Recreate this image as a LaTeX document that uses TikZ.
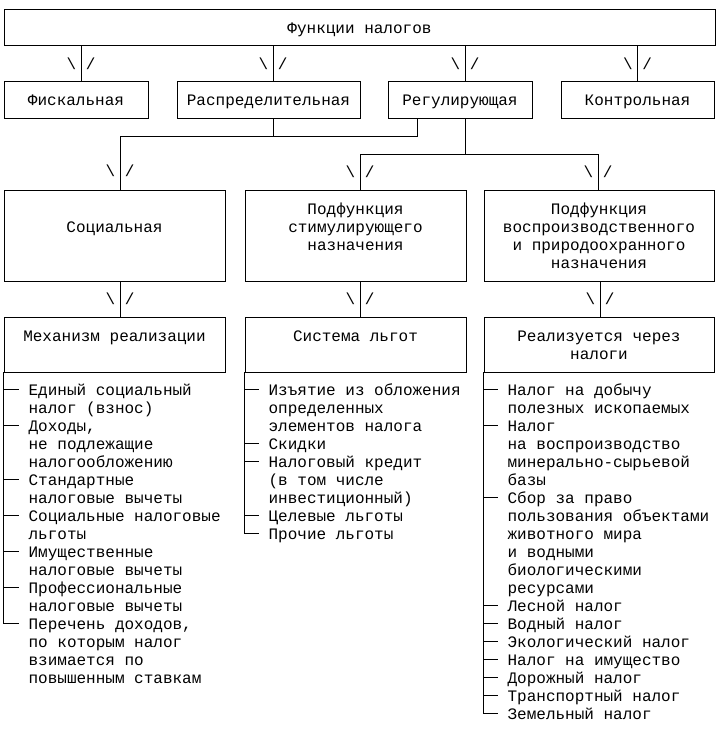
\documentclass[tikz,border=0pt]{standalone}
\usepackage{fontspec}
\setmonofont{Liberation Mono}
\usepackage{tikz}

\newcommand{\diagfont}{\ttfamily\fontsize{16}{18}\selectfont}
\newcommand{\arrowmark}{\textbackslash\hphantom{/}/}
\newcommand{\midrows}[1]{\raisebox{-2pt}[\height][\depth]{\begin{tabular}{@{}c@{}}#1\end{tabular}}}
\newcommand{\leftrows}[1]{\raisebox{-2pt}[\height][\depth]{\begin{tabular}{@{}l@{}}#1\end{tabular}}}

\tikzset{
  box/.style={draw, font=\diagfont, inner xsep=0pt, inner ysep=9.4pt},
  item/.style={font=\diagfont, inner sep=0pt, outer sep=0pt, anchor=north west},
  tipmark/.style={font=\diagfont, inner sep=0pt}
}

\begin{document}
\begin{tikzpicture}[x=1pt, y=1pt, line width=0.8pt]
    \useasboundingbox (0,0) rectangle (720,-733);
    % functions
    \node[box, minimum width=711pt] (top) at (359.5,-27.5) {\midrows{Функции налогов}};
    \node[box, minimum width=144pt] (fisc) at (76,-100) {\midrows{Фискальная}};
    \node[box, right of=fisc, minimum width=183pt, node distance=192.5pt] (distr)
        {\midrows{Распределительная}};
    \node[box, right of=distr, minimum width=144pt, node distance=191.5pt] (regul)
        {\midrows{Регулирующая}};
    \node[box, right of=regul, minimum width=153pt, node distance=177.5pt] (control)
        {\midrows{Контрольная}};
    % subfunctions
    \node[box, minimum width=221pt] (soc) at (114.5,-235.5)
        {\midrows{\mbox{}\\Социальная\\\mbox{}\\\mbox{}}};
    \node[box, right of=soc, minimum width=221pt, node distance=241pt] (stim)
        {\midrows{Подфункция\\стимулирующего\\назначения\\\mbox{}}};
    \node[box, right of=stim, minimum width=230pt, node distance=243.5pt] (repro)
        {\midrows{Подфункция\\воспроизводственного\\и природоохранного\\назначения}};
    \node[box, below of=soc, minimum width=221pt, node distance=109pt] (mech)
        {\midrows{Механизм реализации\\\mbox{}}};
    \node[box, below of=stim, minimum width=221pt, node distance=109pt] (sys)
        {\midrows{Система льгот\\\mbox{}}};
    \node[box, below of=repro, minimum width=230pt, node distance=109pt] (via)
        {\midrows{Реализуется через\\налоги}};

    \draw ([xshift=5pt]fisc.north |- top.south) -- node[tipmark] {\arrowmark}
        ([xshift=5pt]fisc.north);
    \draw ([xshift=4.5pt]distr.north |- top.south) -- node[tipmark] {\arrowmark}
        ([xshift=4.5pt]distr.north);
    \draw ([xshift=5pt]regul.north |- top.south) -- node[tipmark] {\arrowmark}
        ([xshift=5pt]regul.north);
    \draw (control.north |- top.south) -- node[tipmark] {\arrowmark} (control.north);

    \coordinate (hub) at (120,-136);
    \coordinate (split) at (465,-154);
    \draw ([xshift=4.5pt]distr.south) -- ([xshift=4.5pt]distr.south |- hub);
    \draw ([xshift=-43pt]regul.south) |- (hub) -- node[tipmark, pos=.65] {\arrowmark}
        (hub |- soc.north);
    \draw ([xshift=5pt]regul.south) -- (split) -| node[tipmark, pos=.75] {\arrowmark}
        ([xshift=4.5pt]stim.north);
    \draw (split) -| node[tipmark, pos=.75] {\arrowmark} ([xshift=-1pt]repro.north);

    \draw ([xshift=5.5pt]soc.south) -- node[tipmark] {\arrowmark} ([xshift=5.5pt]mech.north);
    \draw ([xshift=4.5pt]stim.south) -- node[tipmark] {\arrowmark} ([xshift=4.5pt]sys.north);
    \draw ([xshift=1pt]repro.south) -- node[tipmark] {\arrowmark} ([xshift=1pt]via.north);

    % social mechanism
    \node[item] (e1) at ([shift={(25pt,-8.5pt)}]mech.south west)
        {\leftrows{Единый социальный\\налог (взнос)}};
    \node[item] (e2) at (e1.south west) {\leftrows{Доходы,\\не подлежащие\\налогообложению}};
    \node[item] (e3) at (e2.south west) {\leftrows{Стандартные\\налоговые вычеты}};
    \node[item] (e4) at (e3.south west) {\leftrows{Социальные налоговые\\льготы}};
    \node[item] (e5) at (e4.south west) {\leftrows{Имущественные\\налоговые вычеты}};
    \node[item] (e6) at (e5.south west) {\leftrows{Профессиональные\\налоговые вычеты}};
    \node[item] (e7) at (e6.south west)
        {\leftrows{Перечень доходов,\\по которым налог\\взимается по\\повышенным ставкам}};
    \draw (mech.south west) |- ([shift={(-10pt,-8.6pt)}]e7.north west);
    \foreach \i in {1,...,6}
        \draw ([shift={(-25pt,-8.6pt)}]e\i.north west) -- ++(15pt,0);

    % benefits
    \node[item] (s1) at ([shift={(24pt,-8.5pt)}]sys.south west)
        {\leftrows{Изъятие из обложения\\определенных\\элементов налога}};
    \node[item] (s2) at (s1.south west) {\leftrows{Скидки}};
    \node[item] (s3) at (s2.south west)
        {\leftrows{Налоговый кредит\\(в том числе\\инвестиционный)}};
    \node[item] (s4) at (s3.south west) {\leftrows{Целевые льготы}};
    \node[item] (s5) at (s4.south west) {\leftrows{Прочие льготы}};
    \draw (sys.south west) |- ([shift={(-10pt,-8.6pt)}]s5.north west);
    \foreach \i in {1,...,4}
        \draw ([shift={(-24pt,-8.6pt)}]s\i.north west) -- ++(14pt,0);

    % taxes
    \node[item] (t1) at ([shift={(24pt,-8.5pt)}]via.south west)
        {\leftrows{Налог на добычу\\полезных ископаемых}};
    \node[item] (t2) at (t1.south west)
        {\leftrows{Налог\\на воспроизводство\\минерально-сырьевой\\базы}};
    \node[item] (t3) at (t2.south west)
        {\leftrows{Сбор за право\\пользования объектами\\животного мира\\и водными\\биологическими\\ресурсами}};
    \node[item] (t4) at (t3.south west) {\leftrows{Лесной налог}};
    \node[item] (t5) at (t4.south west) {\leftrows{Водный налог}};
    \node[item] (t6) at (t5.south west) {\leftrows{Экологический налог}};
    \node[item] (t7) at (t6.south west) {\leftrows{Налог на имущество}};
    \node[item] (t8) at (t7.south west) {\leftrows{Дорожный налог}};
    \node[item] (t9) at (t8.south west) {\leftrows{Транспортный налог}};
    \node[item] (t10) at (t9.south west) {\leftrows{Земельный налог}};
    \draw (via.south west) |- ([shift={(-10pt,-8.6pt)}]t10.north west);
    \foreach \i in {1,...,9}
        \draw ([shift={(-24pt,-8.6pt)}]t\i.north west) -- ++(14pt,0);
\end{tikzpicture}
\end{document}
